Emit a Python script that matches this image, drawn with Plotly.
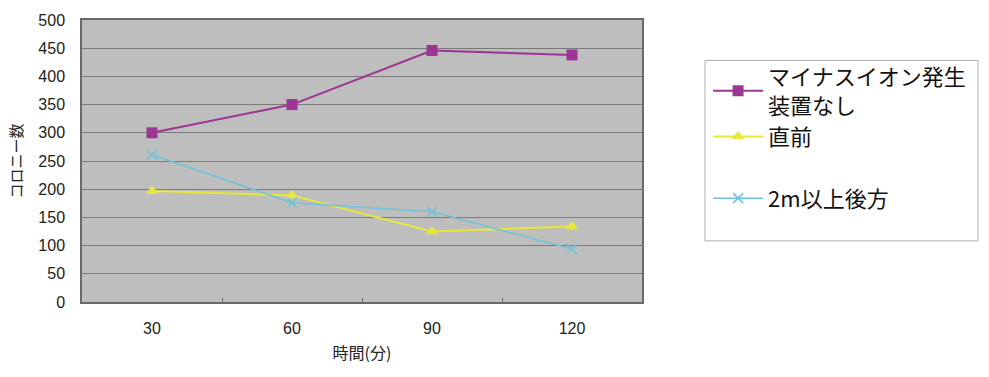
import plotly.graph_objects as go

categories = ["30", "60", "90", "120"]
series_names = ["マイナスイオン発生<br>装置なし", "直前", "2m以上後方"]
no_device = [300, 350, 446, 438]
just_before = [197, 189, 125, 134]
behind_2m = [261, 176, 160, 94]
y_ticks = [0, 50, 100, 150, 200, 250, 300, 350, 400, 450, 500]

JP = "Noto Sans CJK JP"
NUM = "Liberation Sans"

fig = go.Figure()
fig.add_trace(go.Scatter(
    x=categories, y=no_device, name=series_names[0], mode="lines+markers",
    line=dict(color="#9c3593", width=2),
    marker=dict(symbol="square", size=11, color="#9c3593"),
    legendgroup="a"))
fig.add_trace(go.Scatter(
    x=categories, y=just_before, name=series_names[1], mode="lines+markers",
    line=dict(color="#e8e83a", width=2),
    marker=dict(symbol="triangle-up", size=11, color="#e8e83a"),
    legendgroup="a"))
fig.add_trace(go.Scatter(
    x=categories, y=behind_2m, name=series_names[2], mode="lines+markers",
    line=dict(color="#6ec3dc", width=1.5),
    marker=dict(symbol="x-thin", size=10, line=dict(color="#6ec3dc", width=1.5)),
    legendgroup="c"))

# legend frame (pixel box 705..978 x 57..240 converted to paper units)
fig.add_shape(type="rect", xref="paper", yref="paper",
              x0=1.1125, x1=1.6, y0=0.2168, y1=0.8566,
              line=dict(color="#b0b0b0", width=1), fillcolor="rgba(0,0,0,0)")

fig.update_layout(
    width=989, height=377,
    margin=dict(l=82, r=347, t=16, b=75),
    paper_bgcolor="white",
    plot_bgcolor="#bebebe",
    showlegend=True,
    legend=dict(
        x=1.118, y=0.874, xanchor="left", yanchor="top",
        borderwidth=0, bgcolor="rgba(255,255,255,0)",
        font=dict(family=JP, size=22, color="#111"),
        traceorder="grouped", tracegroupgap=30,
        itemwidth=50,
    ),
    xaxis=dict(
        type="category", categoryorder="array", categoryarray=categories,
        showgrid=False, showline=True, linecolor="#6a6a6a", linewidth=1.5,
        mirror=True, ticks="inside", tickson="boundaries", ticklen=4,
        tickcolor="#6a6a6a",
        tickfont=dict(family=NUM, size=16, color="#222"),
        ticklabelstandoff=11,
        title=dict(text="時間(分)", font=dict(family=JP, size=16, color="#222"), standoff=12),
        range=[-0.5, 3.5],
    ),
    yaxis=dict(
        range=[0, 500], tickvals=y_ticks,
        showgrid=True, gridcolor="#7a7a7a", gridwidth=1,
        showline=True, linecolor="#6a6a6a", linewidth=1.5, mirror=True,
        ticks="", zeroline=False,
        tickfont=dict(family=NUM, size=16, color="#222"),
        ticklabelstandoff=12,
        title=dict(text="コロニー数", font=dict(family=JP, size=15, color="#222"), standoff=12),
    ),
)

fig.write_html("out.html")
